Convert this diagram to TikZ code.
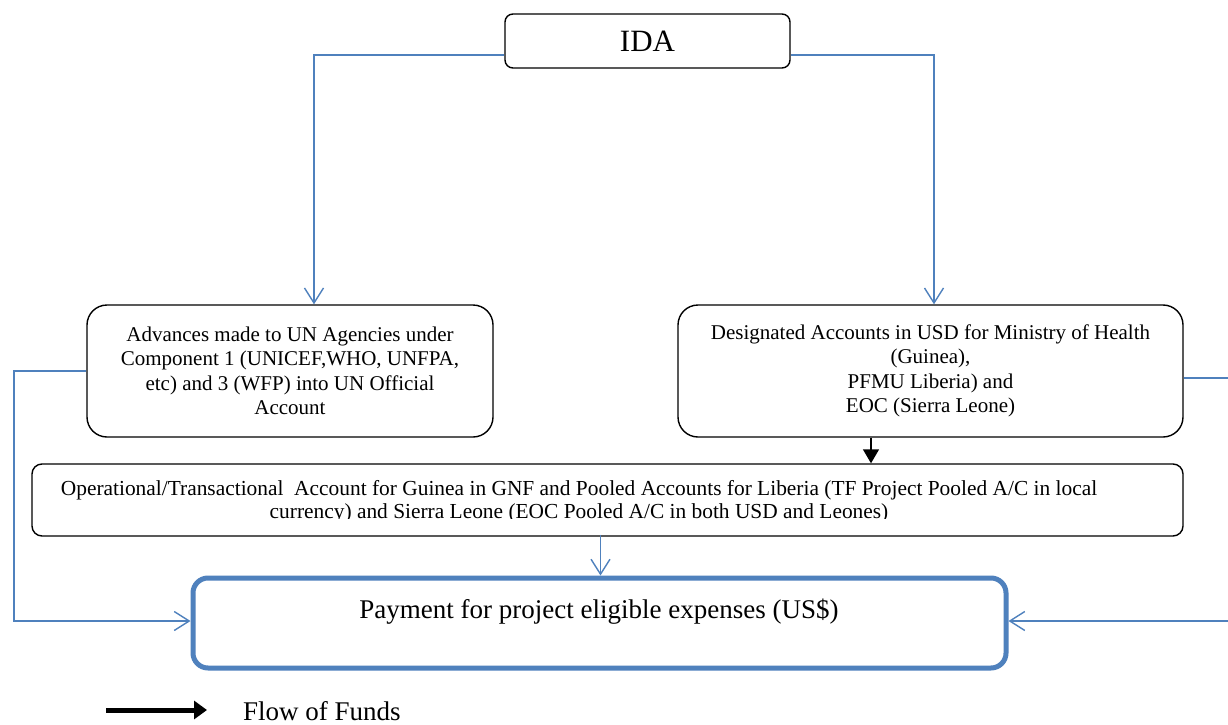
\documentclass[tikz,border=0pt]{standalone}
\usepackage{fontspec}
\setmainfont{Liberation Serif}
\usetikzlibrary{arrows.meta}
\definecolor{ablue}{RGB}{79,129,189}
\begin{document}
\begin{tikzpicture}[x=1pt,y=-1pt,
  box/.style={draw=black, line width=1.4pt, rounded corners=20pt, align=center,
    inner sep=0pt, font=\fontsize{21}{24.5}\selectfont},
  flow/.style={draw=ablue, line width=1.4pt, -{Straight Barb[length=15pt,width=19pt]}},
  blackflow/.style={draw=black, line width=1.4pt, -{Triangle[length=14pt,width=16pt]}},
  legarrow/.style={draw=black, line width=5pt, -{Triangle[length=13pt,width=18pt]}},
  payboxstyle/.style={draw=ablue, line width=5pt, rounded corners=15pt, align=center,
    inner sep=0pt, font=\fontsize{27}{30}\selectfont}
]
\clip (0,0) rectangle (1228,725);
\fill[white] (0,0) rectangle (1228,725);

% boxes
\node[box, rounded corners=8pt, minimum width=285pt, minimum height=54pt,
  font=\fontsize{31}{36}\selectfont] (ida) at (647.5,41) {IDA};
\node[box, minimum width=406pt, minimum height=132pt] (lb) at (290,371)
  {Advances made to UN Agencies under\\Component 1 (UNICEF,WHO, UNFPA,\\etc) and 3 (WFP) into UN Official\\Account};
\node[box, minimum width=505pt, minimum height=132pt] (rb) at (930.5,371)
  {Designated Accounts in USD for Ministry of Health\\(Guinea),\\PFMU Liberia) and\\EOC (Sierra Leone)};
\node[box, rounded corners=10pt, minimum width=1151pt, minimum height=72pt] (op) at (607.5,500) {};
\begin{scope}
  \clip (30,464) rectangle (1185,518.5);
  \node[align=center, inner sep=0pt, font=\fontsize{21.4}{23.5}\selectfont] (optext) at (579,502)
    {Operational/Transactional\ \ Account for Guinea in GNF and Pooled Accounts for Liberia (TF Project Pooled A/C in local\\currency) and Sierra Leone (EOC Pooled A/C in both USD and Leones)};
\end{scope}
\node[payboxstyle, minimum width=813pt, minimum height=90pt] (pay) at (599.5,623) {};
\node[font=\fontsize{27}{30}\selectfont, inner sep=0pt] (paytext) at (599,612)
  {Payment for project eligible expenses (US\$)};

% connectors
\coordinate (tl) at (314,55);
\coordinate (tr) at (934,55);
\draw[flow] ([yshift=-14pt]ida.west) -- (tl) -- (tl |- lb.north);
\draw[flow] ([yshift=-14pt]ida.east) -- (tr) -- (tr |- rb.north);

\draw[blackflow] ([xshift=-59.5pt]rb.south) -- ([xshift=-59.5pt]rb.south |- op.north);
\draw[flow] ([xshift=-7pt,yshift=2pt]op.south) -- ([xshift=-7pt]op.south |- pay.north);

\coordinate (lc1) at (14,371);
\coordinate (lc2) at (14,621);
\draw[flow] (lb.west) -- (lc1) -- (lc2) -- (lc2 -| pay.west);

\coordinate (rc1) at (1236,378);
\coordinate (rc2) at (1236,621);
\draw[flow] ([yshift=-7pt]rb.east) -- (rc1) -- (rc2) -- (rc2 -| pay.east);

% legend
\node[anchor=base west, inner sep=0pt, font=\fontsize{27}{32}\selectfont] (legtext) at (243,720) {Flow of Funds};
\coordinate (la) at (106,710);
\draw[legarrow, shorten >=36pt] (la) -- (la -| legtext.west);
\end{tikzpicture}
\end{document}
